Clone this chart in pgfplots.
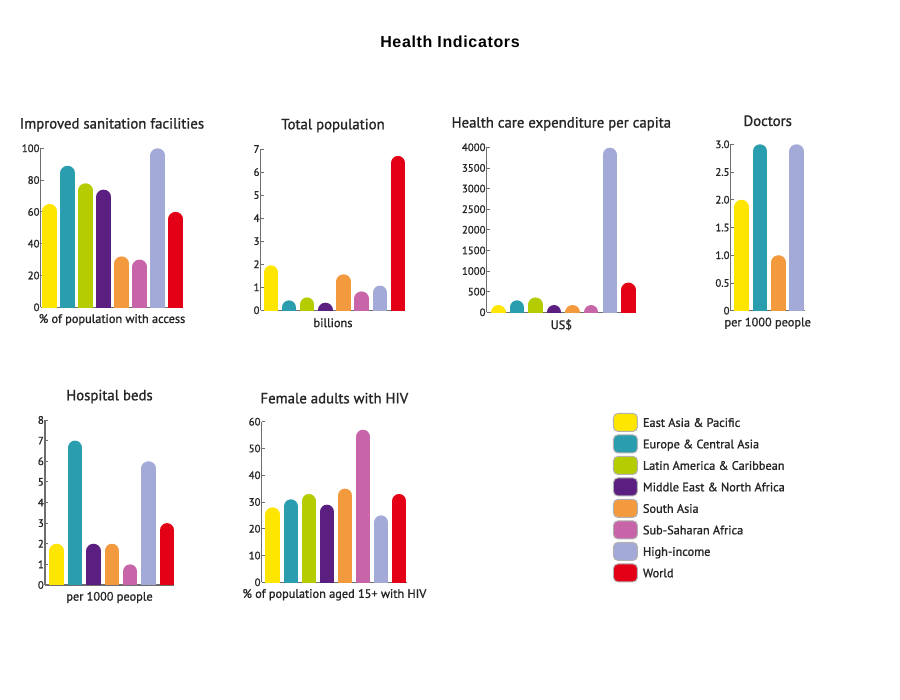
\documentclass[border=0pt]{standalone}
\usepackage{pgfplots}
\pgfplotsset{compat=1.18}
\usepackage{fontspec}
\setmainfont{PT Sans}[FakeBold=1.2]
\newfontfamily\headfont{Liberation Sans}[LetterSpace=4]

\definecolor{cEA}{HTML}{FFE600}
\definecolor{cEU}{HTML}{2A9DAF}
\definecolor{cLA}{HTML}{B5CC00}
\definecolor{cME}{HTML}{5B1F82}
\definecolor{cSA}{HTML}{F39A3E}
\definecolor{cSS}{HTML}{C765A8}
\definecolor{cHI}{HTML}{A3AAD8}
\definecolor{cWO}{HTML}{E30016}
\definecolor{txt}{HTML}{262626}
\definecolor{axl}{HTML}{6E6E6E}

\pgfplotsset{
  hc/.style={
    scale only axis, anchor=south west,
    axis x line=bottom, axis y line=left,
    axis line style={-, draw=axl, line width=1.1pt},
    xtick=\empty, ymin=0,
    major tick length=3pt, tick style={draw=axl, line width=0.8pt},
    tick align=inside,
    yticklabel style={font=\fontsize{10.8}{12}\selectfont, text=txt, inner sep=1pt},
    /pgf/number format/assume math mode=true,
    /pgf/number format/1000 sep={},
    every axis title shift=0pt,
    title style={font=\fontsize{14.8}{16}\selectfont, text=txt, at={(0.5,1)}, anchor=center, yshift=23.5pt},
    every axis x label/.style={at={(axis description cs:0.5,0)}, anchor=center, yshift=-12.5pt, font=\fontsize{12.3}{14}\selectfont, text=txt},
  },
  bar/.style={ycomb, line width=14.5pt, line cap=round, shorten >=7.25pt},
}

\begin{document}
\begin{tikzpicture}
\fill[white] (0,0) rectangle (900pt,700pt);
\path[use as bounding box] (0,0) rectangle (900pt,700pt);

\node[font=\headfont\bfseries\fontsize{16}{18}\selectfont, text=black] at (450pt,658pt) {Health Indicators};

% improved sanitation
\begin{axis}[hc, at={(40.7pt,392.7pt)}, width=142.6pt, height=159pt,
  xmin=0.5, xmax=8.42, ymax=100, ytick={0,20,...,100},
  title={Improved sanitation facilities}, xlabel={\% of population with access}]
\addplot[bar, cEA] coordinates {(1,65)};
\addplot[bar, cEU] coordinates {(2,89)};
\addplot[bar, cLA] coordinates {(3,78)};
\addplot[bar, cME] coordinates {(4,74)};
\addplot[bar, cSA] coordinates {(5,32)};
\addplot[bar, cSS] coordinates {(6,30)};
\addplot[bar, cHI] coordinates {(7,100)};
\addplot[bar, cWO] coordinates {(8,60)};
\end{axis}

% total population
\begin{axis}[hc, at={(260.7pt,389.7pt)}, width=144.6pt, height=161.3pt,
  xmin=0.444, xmax=8.40, ymax=7, ytick={0,1,...,7},
  title={Total population}, xlabel={billions}]
\addplot[bar, cEA] coordinates {(1,1.95)};
\addplot[bar, cEU] coordinates {(2,0.43)};
\addplot[bar, cLA] coordinates {(3,0.56)};
\addplot[bar, cME] coordinates {(4,0.33)};
\addplot[bar, cSA] coordinates {(5,1.56)};
\addplot[bar, cSS] coordinates {(6,0.82)};
\addplot[bar, cHI] coordinates {(7,1.07)};
\addplot[bar, cWO] coordinates {(8,6.7)};
\end{axis}

% health care expenditure
\begin{axis}[hc, at={(486.7pt,387.7pt)}, width=149.3pt, height=165pt,
  xmin=0.375, xmax=8.41, ymax=4000, ytick={0,500,...,4000},
  scaled y ticks=false,
  title={Health care expenditure per capita}, xlabel={US\$}]
\addplot[bar, cEA] coordinates {(1,70)};
\addplot[bar, cEU] coordinates {(2,290)};
\addplot[bar, cLA] coordinates {(3,360)};
\addplot[bar, cME] coordinates {(4,120)};
\addplot[bar, cSA] coordinates {(5,25)};
\addplot[bar, cSS] coordinates {(6,50)};
\addplot[bar, cHI] coordinates {(7,3990)};
\addplot[bar, cWO] coordinates {(8,720)};
\end{axis}

% doctors
\begin{axis}[hc, at={(730.7pt,389.3pt)}, width=74pt, height=166.4pt,
  xmin=0.4, xmax=4.44, ymax=3, ytick={0,0.5,...,3},
  yticklabels={0,0.5,1.0,1.5,2.0,2.5,3.0},
  title={Doctors}, xlabel={per 1000 people}]
\addplot[bar, cEA] coordinates {(1,2.0)};
\addplot[bar, cEU] coordinates {(2,3.0)};
\addplot[bar, cSA] coordinates {(3,1.0)};
\addplot[bar, cHI] coordinates {(4,3.0)};
\end{axis}

% hospital beds
\begin{axis}[hc, at={(45pt,115pt)}, width=129pt, height=165pt,
  xmin=0.364, xmax=7.38, ymax=8, ytick={0,1,...,8},
  title={Hospital beds}, xlabel={per 1000 people}]
\addplot[bar, cEA] coordinates {(1,2)};
\addplot[bar, cEU] coordinates {(2,7)};
\addplot[bar, cME] coordinates {(3,2)};
\addplot[bar, cSA] coordinates {(4,2)};
\addplot[bar, cSS] coordinates {(5,1)};
\addplot[bar, cHI] coordinates {(6,6)};
\addplot[bar, cWO] coordinates {(7,3)};
\end{axis}

% female adults with HIV, carries the legend
\begin{axis}[hc, at={(261.7pt,117.7pt)}, width=145.3pt, height=160.6pt,
  xmin=0.392, xmax=8.43, ymax=60, ytick={0,10,...,60},
  title={Female adults with HIV}, xlabel={\% of population aged 15+ with HIV},
  legend cell align=left,
  legend style={draw=none, fill=none, at={(2.416,1.056)}, anchor=north west,
    inner sep=0pt, row sep=2.5pt, font=\fontsize{12.3}{13}\selectfont, text=txt,
    /tikz/every odd column/.append style={column sep=3pt}},
  legend image code/.code={\filldraw[#1, draw=gray!60, line width=1pt, shorten >=0pt, rounded corners=4.5pt] (0pt,-8.2pt) rectangle (24pt,9.8pt);}]
\addplot[bar, cEA] coordinates {(1,28)};
\addlegendentry{East Asia \& Pacific}
\addplot[bar, cEU] coordinates {(2,31)};
\addlegendentry{Europe \& Central Asia}
\addplot[bar, cLA] coordinates {(3,33)};
\addlegendentry{Latin America \& Caribbean}
\addplot[bar, cME] coordinates {(4,29)};
\addlegendentry{Middle East \& North Africa}
\addplot[bar, cSA] coordinates {(5,35)};
\addlegendentry{South Asia}
\addplot[bar, cSS] coordinates {(6,57)};
\addlegendentry{Sub-Saharan Africa}
\addplot[bar, cHI] coordinates {(7,25)};
\addlegendentry{High-income}
\addplot[bar, cWO] coordinates {(8,33)};
\addlegendentry{World}
\end{axis}
\end{tikzpicture}
\end{document}
